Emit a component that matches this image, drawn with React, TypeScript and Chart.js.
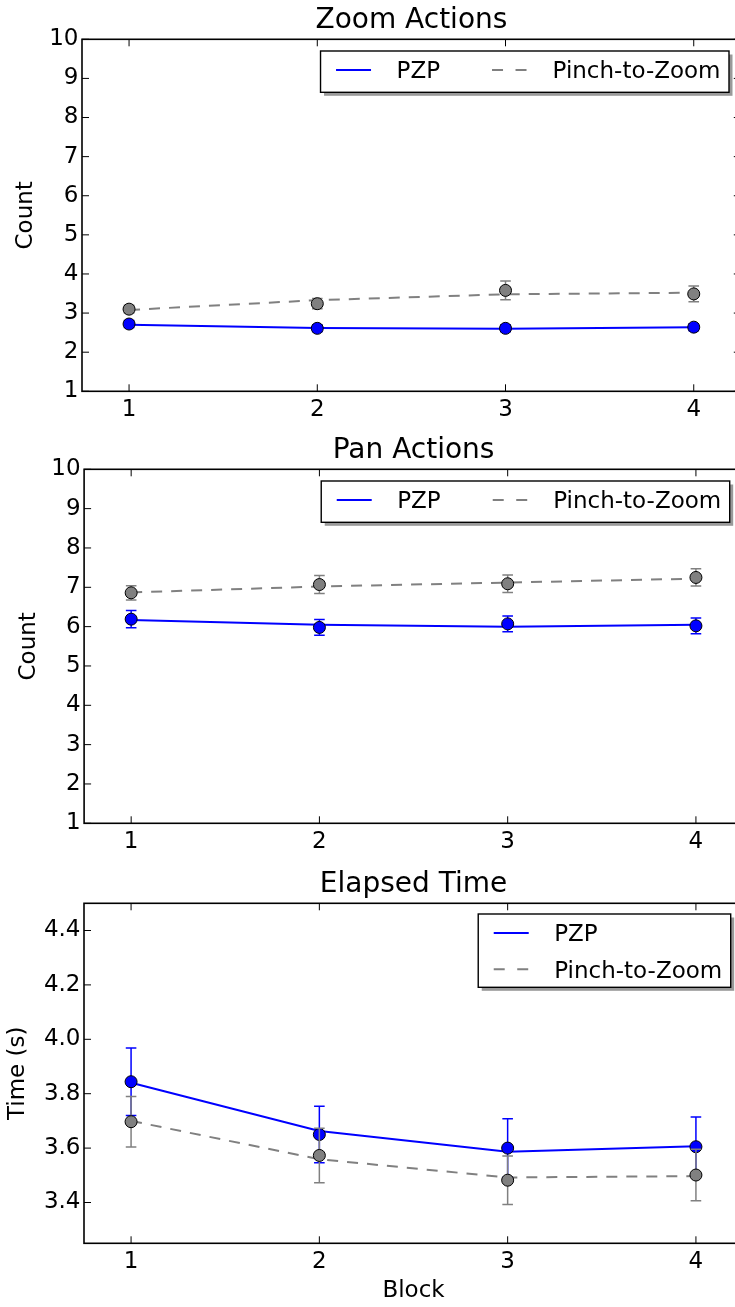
import React, { useEffect, useRef } from "react";
import { Chart, registerables } from "chart.js";

Chart.register(...registerables);

// ---------------- data ----------------
const BLOCKS = [1, 2, 3, 4];
const X_TICKS = [1, 2, 3, 4];
const COUNT_TICKS = [1, 2, 3, 4, 5, 6, 7, 8, 9, 10];
const TIME_TICKS = [3.4, 3.6, 3.8, 4.0, 4.2, 4.4];
const SERIES_NAMES = ["PZP", "Pinch-to-Zoom"];

// Zoom Actions
const ZOOM_PZP_MEAN = [2.72, 2.61, 2.61, 2.64];
const ZOOM_PZP_ERR = [0.09, 0.09, 0.09, 0.09];
const ZOOM_PZP_FIT = [2.7, 2.62, 2.6, 2.64];
const ZOOM_PTZ_MEAN = [3.1, 3.24, 3.58, 3.49];
const ZOOM_PTZ_ERR = [0.1, 0.13, 0.24, 0.2];
const ZOOM_PTZ_FIT = [3.08, 3.33, 3.48, 3.52];

// Pan Actions
const PAN_PZP_MEAN = [6.19, 5.98, 6.07, 6.02];
const PAN_PZP_ERR = [0.22, 0.2, 0.2, 0.2];
const PAN_PZP_FIT = [6.17, 6.05, 6.0, 6.05];
const PAN_PTZ_MEAN = [6.86, 7.07, 7.09, 7.25];
const PAN_PTZ_ERR = [0.18, 0.23, 0.22, 0.22];
const PAN_PTZ_FIT = [6.87, 7.02, 7.12, 7.22];

// Elapsed Time
const TIME_PZP_MEAN = [3.844, 3.65, 3.6, 3.605];
const TIME_PZP_ERR = [0.124, 0.104, 0.108, 0.109];
const TIME_PZP_FIT = [3.84, 3.663, 3.587, 3.607];
const TIME_PTZ_MEAN = [3.697, 3.573, 3.482, 3.501];
const TIME_PTZ_ERR = [0.093, 0.1, 0.089, 0.095];
const TIME_PTZ_FIT = [3.7, 3.559, 3.492, 3.497];

// ---------------- style ----------------
const FONT = "'DejaVu Sans', sans-serif";
const BLUE = "#0000ff";
const GRAY = "#808080";
const CANVAS_W = 750;

const pts = (vals: number[]) => BLOCKS.map((b, i) => ({ x: b, y: vals[i] }));

type Panel = {
  title: string;
  yLabel: string;
  xLabel?: string;
  yMin: number;
  yMax: number;
  yTicks: number[];
  yDecimals: number;
  pzpMean: number[];
  pzpErr: number[];
  pzpFit: number[];
  ptzMean: number[];
  ptzErr: number[];
  ptzFit: number[];
  legendCols: number;
  legendTop: number;
  legendRight: number;
  top: number;
  height: number;
  left: number;
  right: number;
  xAxisHeight: number;
  yTitlePad: number;
};

const PANELS: Panel[] = [
  {
    title: "Zoom Actions",
    yLabel: "Count",
    yMin: 1,
    yMax: 10,
    yTicks: COUNT_TICKS,
    yDecimals: 0,
    pzpMean: ZOOM_PZP_MEAN,
    pzpErr: ZOOM_PZP_ERR,
    pzpFit: ZOOM_PZP_FIT,
    ptzMean: ZOOM_PTZ_MEAN,
    ptzErr: ZOOM_PTZ_ERR,
    ptzFit: ZOOM_PTZ_FIT,
    legendCols: 2,
    legendTop: 11.7,
    legendRight: 11.8,
    top: 0,
    height: 430,
    left: 82,
    right: 740.8,
    xAxisHeight: 38.7,
    yTitlePad: 12.5,
  },
  {
    title: "Pan Actions",
    yLabel: "Count",
    yMin: 1,
    yMax: 10,
    yTicks: COUNT_TICKS,
    yDecimals: 0,
    pzpMean: PAN_PZP_MEAN,
    pzpErr: PAN_PZP_ERR,
    pzpFit: PAN_PZP_FIT,
    ptzMean: PAN_PTZ_MEAN,
    ptzErr: PAN_PTZ_ERR,
    ptzFit: PAN_PTZ_FIT,
    legendCols: 2,
    legendTop: 11.7,
    legendRight: 13.3,
    top: 430,
    height: 434,
    left: 84.1,
    right: 744.3,
    xAxisHeight: 40.7,
    yTitlePad: 14.8,
  },
  {
    title: "Elapsed Time",
    yLabel: "Time (s)",
    xLabel: "Block",
    yMin: 3.25,
    yMax: 4.5,
    yTicks: TIME_TICKS,
    yDecimals: 1,
    pzpMean: TIME_PZP_MEAN,
    pzpErr: TIME_PZP_ERR,
    pzpFit: TIME_PZP_FIT,
    ptzMean: TIME_PTZ_MEAN,
    ptzErr: TIME_PTZ_ERR,
    ptzFit: TIME_PTZ_FIT,
    legendCols: 1,
    legendTop: 10.7,
    legendRight: 12.3,
    top: 864,
    height: 443,
    left: 84,
    right: 743,
    xAxisHeight: 63.7,
    yTitlePad: 4.7,
  },
];

// ---------------- plugins ----------------
const errorBarPlugin = {
  id: "errorBars",
  beforeDatasetDraw(chart: any, args: any) {
    const ds = chart.data.datasets[args.index];
    if (!ds.errors) return;
    const { ctx } = chart;
    const yScale = chart.scales.y;
    ctx.save();
    ctx.strokeStyle = ds.errorColor;
    ctx.lineWidth = 1.5;
    args.meta.data.forEach((el: any, i: number) => {
      const v = ds.data[i].y;
      const e = ds.errors[i];
      const x = el.x;
      const y1 = yScale.getPixelForValue(v + e);
      const y2 = yScale.getPixelForValue(v - e);
      ctx.beginPath();
      ctx.moveTo(x, y1);
      ctx.lineTo(x, y2);
      ctx.moveTo(x - 5.3, y1);
      ctx.lineTo(x + 5.3, y1);
      ctx.moveTo(x - 5.3, y2);
      ctx.lineTo(x + 5.3, y2);
      ctx.stroke();
    });
    ctx.restore();
  },
};

const framePlugin = {
  id: "frame",
  afterDatasetsDraw(chart: any) {
    const { ctx, chartArea: a } = chart;
    const xs = chart.scales.x;
    const ys = chart.scales.y;
    const TL = 7;
    ctx.save();
    ctx.strokeStyle = "#000";
    ctx.lineWidth = 1;
    ctx.beginPath();
    xs.ticks.forEach((t: any) => {
      const px = xs.getPixelForValue(t.value);
      ctx.moveTo(px, a.bottom);
      ctx.lineTo(px, a.bottom - TL);
      ctx.moveTo(px, a.top);
      ctx.lineTo(px, a.top + TL);
    });
    ys.ticks.forEach((t: any) => {
      const py = ys.getPixelForValue(t.value);
      ctx.moveTo(a.left, py);
      ctx.lineTo(a.left + TL, py);
      ctx.moveTo(a.right, py);
      ctx.lineTo(a.right - TL, py);
    });
    ctx.stroke();
    ctx.lineWidth = 1.6;
    ctx.strokeRect(a.left, a.top, a.right - a.left, a.bottom - a.top);
    ctx.restore();
  },
};

const boxLegendPlugin = {
  id: "boxLegend",
  afterDraw(chart: any, _args: any, opts: any) {
    const { ctx, chartArea: a } = chart;
    const items = opts.items as { label: string; color: string; dash: number[] }[];
    const cols = opts.cols as number;
    const rows = Math.ceil(items.length / cols);
    const PAD_L = 15.5;
    const HANDLE = 35;
    const TXT_GAP = 60.5;
    const COL_GAP = 52;
    const PAD_R = 8.5;
    const ROW0 = 19;
    const ROW_H = 36.3;
    ctx.save();
    ctx.font = `23px ${FONT}`;
    const colW: number[] = [];
    items.forEach((it, i) => {
      const c = i % cols;
      const w = ctx.measureText(it.label).width;
      colW[c] = Math.max(colW[c] || 0, w);
    });
    let w = PAD_L;
    const colX: number[] = [];
    colW.forEach((cw, c) => {
      colX[c] = w;
      w += TXT_GAP + cw + (c < colW.length - 1 ? COL_GAP : 0);
    });
    w += PAD_R;
    const h = rows === 1 ? 41.3 : 73.3;
    const bx = a.right - opts.right - w;
    const by = a.top + opts.top;
    ctx.fillStyle = "rgba(0,0,0,0.4)";
    ctx.fillRect(bx + 3.5, by + 3.5, w, h);
    ctx.fillStyle = "#fff";
    ctx.fillRect(bx, by, w, h);
    ctx.strokeStyle = "#000";
    ctx.lineWidth = 1.4;
    ctx.strokeRect(bx, by, w, h);
    items.forEach((it, i) => {
      const r = Math.floor(i / cols);
      const c = i % cols;
      const x0 = bx + colX[c];
      const y = by + ROW0 + r * ROW_H;
      ctx.beginPath();
      ctx.setLineDash(it.dash);
      ctx.strokeStyle = it.color;
      ctx.lineWidth = 2;
      ctx.moveTo(x0, y);
      ctx.lineTo(x0 + HANDLE, y);
      ctx.stroke();
      ctx.setLineDash([]);
      ctx.fillStyle = "#000";
      ctx.textBaseline = "alphabetic";
      ctx.textAlign = "left";
      ctx.fillText(it.label, x0 + TXT_GAP, y + 8.3);
    });
    ctx.restore();
  },
};

// ---------------- component ----------------
function PanelChart({ cfg }: { cfg: Panel }) {
  const ref = useRef<HTMLCanvasElement | null>(null);

  useEffect(() => {
    if (!ref.current) return;
    const font = { family: FONT, size: 23, weight: "normal" as const };
    const chart = new Chart(ref.current, {
      type: "line",
      data: {
        datasets: [
          {
            label: SERIES_NAMES[0],
            data: pts(cfg.pzpFit),
            borderColor: BLUE,
            borderWidth: 2,
            pointRadius: 0,
            fill: false,
            tension: 0,
            order: 4,
          },
          {
            label: SERIES_NAMES[1],
            data: pts(cfg.ptzFit),
            borderColor: GRAY,
            borderWidth: 2,
            borderDash: [11, 9],
            pointRadius: 0,
            fill: false,
            tension: 0,
            order: 3,
          },
          {
            label: SERIES_NAMES[0] + " mean",
            data: pts(cfg.pzpMean),
            showLine: false,
            pointStyle: "circle",
            pointRadius: 6,
            pointBackgroundColor: BLUE,
            pointBorderColor: "#000",
            pointBorderWidth: 1,
            errors: cfg.pzpErr,
            errorColor: BLUE,
            order: 2,
          } as any,
          {
            label: SERIES_NAMES[1] + " mean",
            data: pts(cfg.ptzMean),
            showLine: false,
            pointStyle: "circle",
            pointRadius: 6,
            pointBackgroundColor: GRAY,
            pointBorderColor: "#000",
            pointBorderWidth: 1,
            errors: cfg.ptzErr,
            errorColor: GRAY,
            order: 1,
          } as any,
        ],
      },
      options: {
        animation: false,
        responsive: false,
        maintainAspectRatio: false,
        devicePixelRatio: 1,
        events: [],
        layout: {
          padding: { left: 0, top: 0, bottom: 0, right: CANVAS_W - cfg.right },
        },
        scales: {
          x: {
            type: "linear",
            min: 0.75,
            max: 4.25,
            afterBuildTicks: (s: any) => {
              s.ticks = X_TICKS.map((v) => ({ value: v }));
            },
            afterFit: (s: any) => {
              s.height = cfg.xAxisHeight;
            },
            grid: { display: false, drawTicks: false },
            border: { display: false },
            ticks: {
              padding: 4.5,
              color: "#000",
              font,
              autoSkip: false,
              maxRotation: 0,
              callback: (v: any) => String(v),
            },
            title: cfg.xLabel
              ? {
                  display: true,
                  text: cfg.xLabel,
                  color: "#000",
                  font,
                  padding: { top: 0, bottom: 1.9 },
                }
              : { display: false },
          },
          y: {
            type: "linear",
            min: cfg.yMin,
            max: cfg.yMax,
            afterBuildTicks: (s: any) => {
              s.ticks = cfg.yTicks.map((v) => ({ value: v }));
            },
            afterFit: (s: any) => {
              s.width = cfg.left;
            },
            grid: { display: false, drawTicks: false },
            border: { display: false },
            ticks: {
              padding: 3.5,
              color: "#000",
              font,
              autoSkip: false,
              callback: (v: any) => Number(v).toFixed(cfg.yDecimals),
            },
            title: {
              display: true,
              text: cfg.yLabel,
              color: "#000",
              font,
              padding: { top: cfg.yTitlePad, bottom: 0 },
            },
          },
        },
        plugins: {
          legend: { display: false },
          tooltip: { enabled: false },
          title: {
            display: true,
            text: cfg.title,
            fullSize: false,
            color: "#000",
            font: { family: FONT, size: 28, weight: "normal" },
            padding: { top: 3.8, bottom: 1.9 },
          },
          boxLegend: {
            cols: cfg.legendCols,
            top: cfg.legendTop,
            right: cfg.legendRight,
            items: [
              { label: SERIES_NAMES[0], color: BLUE, dash: [] },
              { label: SERIES_NAMES[1], color: GRAY, dash: [11, 12.5] },
            ],
          },
        } as any,
      },
      plugins: [errorBarPlugin, framePlugin, boxLegendPlugin],
    } as any);
    return () => chart.destroy();
  }, [cfg]);

  return (
    <canvas
      ref={ref}
      width={CANVAS_W}
      height={cfg.height}
      style={{
        position: "absolute",
        left: 0,
        top: cfg.top,
        width: CANVAS_W,
        height: cfg.height,
        display: "block",
      }}
    />
  );
}

export default function App() {
  return (
    <div
      style={{
        position: "absolute",
        left: 0,
        top: 0,
        width: 735,
        height: 1307,
        overflow: "hidden",
        background: "#fff",
      }}
    >
      {PANELS.map((p) => (
        <PanelChart key={p.title} cfg={p} />
      ))}
    </div>
  );
}
